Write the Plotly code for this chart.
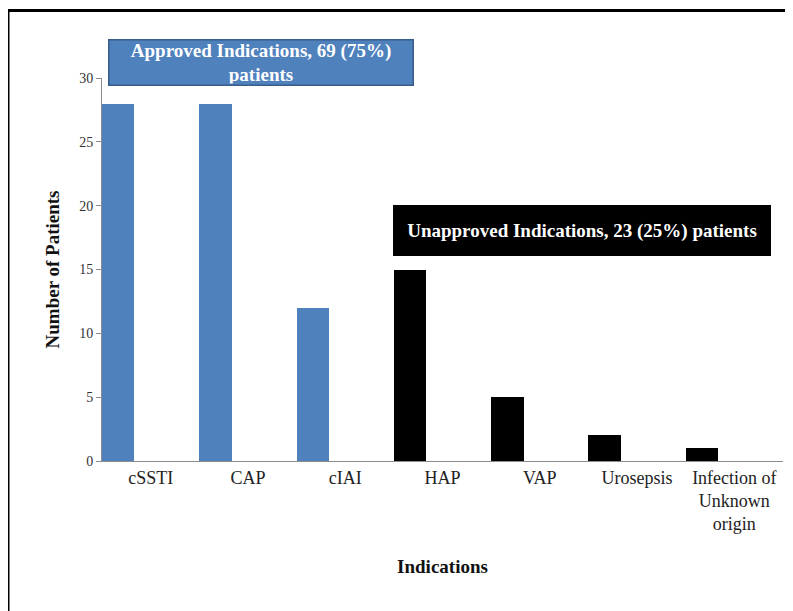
import plotly.graph_objects as go

categories = ["cSSTI", "CAP", "cIAI", "HAP", "VAP", "Urosepsis", "Infection of<br>Unknown<br>origin"]
patients = [28, 28, 12, 15, 5, 2, 1]
approved = [True, True, True, False, False, False, False]
y_ticks = [0, 5, 10, 15, 20, 25, 30]

BLUE = "#4F81BD"
colors = [BLUE if a else "#000000" for a in approved]

SERIF = "Liberation Serif, Times New Roman, serif"

fig = go.Figure()
fig.add_trace(go.Bar(
    x=categories, y=patients,
    marker=dict(color=colors, line=dict(width=0)),
    offset=-0.5, width=0.333,
    showlegend=False, hoverinfo="x+y",
))

# page body has an 8px margin; work in window coordinates and shift
OFF = 8
W, H = 793 - OFF, 611 - OFF
L, R, T, B = 102 - OFF, 10, 78 - OFF, 150
pw, ph = W - L - R, H - T - B

def px(x):
    return (x - OFF - L) / pw

def py(y):
    return (H - B - (y - OFF)) / ph

fig.update_layout(
    width=W, height=H,
    margin=dict(l=L, r=R, t=T, b=B, pad=0),
    paper_bgcolor="white", plot_bgcolor="white",
    font=dict(family=SERIF, color="#222222"),
    bargap=0,
    xaxis=dict(
        type="category",
        range=[-0.5, len(categories) - 0.5],
        showline=True, linecolor="#8C8C8C", linewidth=1,
        ticks="", showgrid=False,
        tickfont=dict(size=18, family=SERIF, color="#222222"),
        title=dict(text="<b>Indications</b>", font=dict(size=19, family=SERIF, color="#111111"), standoff=26),
        fixedrange=True,
    ),
    yaxis=dict(
        range=[0, 30],
        tickvals=y_ticks,
        showline=True, linecolor="#8C8C8C", linewidth=1,
        ticks="outside", ticklen=5, tickcolor="#8C8C8C",
        showgrid=False, zeroline=False,
        tickfont=dict(size=14, family=SERIF, color="#333333"),
        title=dict(text="<b>Number of Patients</b>", font=dict(size=19, family=SERIF, color="#111111"), standoff=14),
    ),
    annotations=[
        dict(
            text="<b>Approved Indications, 69 (75%)<br>patients</b>",
            xref="paper", yref="paper",
            x=px((108 + 413) / 2), y=py((39 + 85) / 2),
            xanchor="center", yanchor="middle",
            showarrow=False,
            font=dict(size=19, family=SERIF, color="white"),
            bgcolor=BLUE, bordercolor="#385D8A", borderwidth=1.5,
            width=301, height=42, borderpad=1,
        ),
        dict(
            text="<b>Unapproved Indications, 23 (25%) patients</b>",
            xref="paper", yref="paper",
            x=px((393 + 771) / 2), y=py((205 + 256) / 2),
            xanchor="center", yanchor="middle",
            showarrow=False,
            font=dict(size=19, family=SERIF, color="white"),
            bgcolor="#000000", bordercolor="#000000", borderwidth=1,
            width=374, height=47, borderpad=1,
        ),
    ],
    shapes=[
        dict(type="line", xref="paper", yref="paper",
             x0=px(8), x1=px(8), y0=py(10), y1=py(700),
             line=dict(color="#000000", width=3)),
        dict(type="line", xref="paper", yref="paper",
             x0=px(7), x1=px(900), y0=py(10.5), y1=py(10.5),
             line=dict(color="#000000", width=3)),
    ],
)

fig.write_html("out.html")
